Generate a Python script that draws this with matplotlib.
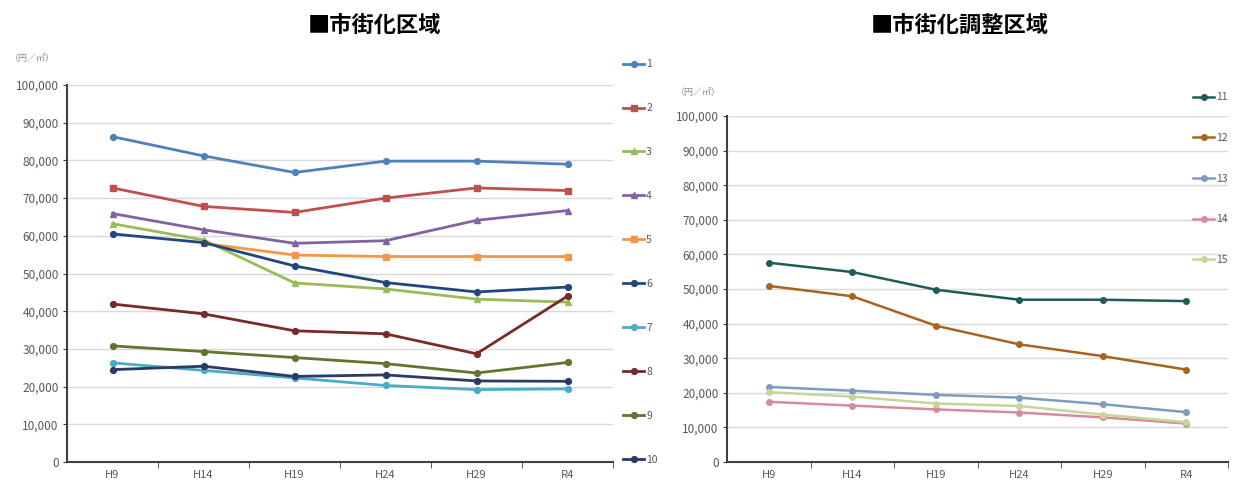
import numpy as np
import matplotlib
matplotlib.use("Agg")
import matplotlib.pyplot as plt

plt.rcParams['font.family'] = ['Noto Sans CJK JP', 'DejaVu Sans']

# categories (years)
years = ['H9', 'H14', 'H19', 'H24', 'H29', 'R4']

# 市街化区域 (yen / m2)
s1 = [86300, 81200, 76800, 79800, 79800, 79000]
s2 = [72700, 67800, 66200, 70000, 72700, 72000]
s3 = [63200, 58900, 47500, 45900, 43200, 42400]
s4 = [65900, 61600, 58000, 58700, 64100, 66700]
s5 = [np.nan, 58000, 54900, 54500, 54500, 54500]
s6 = [60500, 58200, 52000, 47600, 45100, 46400]
s7 = [26300, 24300, 22300, 20300, 19200, 19400]
s8 = [41900, 39300, 34800, 34000, 28700, 44000]
s9 = [30800, 29300, 27700, 26100, 23600, 26400]
s10 = [24500, 25400, 22700, 23100, 21500, 21400]

# 市街化調整区域 (yen / m2)
s11 = [57600, 54900, 49800, 46900, 46900, 46500]
s12 = [50900, 47900, 39400, 34000, 30600, 26700]
s13 = [21700, 20600, 19400, 18600, 16700, 14400]
s14 = [17400, 16300, 15200, 14300, 12900, 11100]
s15 = [20200, 18900, 16900, 16200, 13700, 11500]

left_names = ['1', '2', '3', '4', '5', '6', '7', '8', '9', '10']
left_series = [s1, s2, s3, s4, s5, s6, s7, s8, s9, s10]
left_colors = ['#4F81BD', '#C0504D', '#9BBB59', '#8064A2', '#F79646',
               '#1F497D', '#4BACC6', '#772C2A', '#5F7530', '#2E3A66']
left_markers = ['o', 's', '^', '^', 's', 'o', 'o', 'o', 'o', 'o']

right_names = ['11', '12', '13', '14', '15']
right_series = [s11, s12, s13, s14, s15]
right_colors = ['#1F5C56', '#A8641C', '#7F9BBD', '#D98A9A', '#C4D79B']

fig = plt.figure(figsize=(12.36, 4.84), dpi=100)
ax1 = fig.add_axes([67 / 1236, 1 - 462 / 484, 546 / 1236, 377 / 484])
ax2 = fig.add_axes([727 / 1236, 1 - 462 / 484, 501 / 1236, 346 / 484])

tick_col = '#595959'


def style_axes(ax):
    x = np.arange(len(years))
    ax.set_xlim(-0.5, len(years) - 0.5)
    ax.set_ylim(0, 100000)
    ax.set_yticks(np.arange(0, 100001, 10000))
    ax.set_yticklabels([f'{v:,}' for v in range(0, 100001, 10000)])
    ax.set_xticks(x)
    ax.set_xticklabels(years)
    ax.set_xticks(np.arange(0.5, len(years), 1), minor=True)
    ax.tick_params(axis='x', which='major', length=0, labelsize=8, colors=tick_col, pad=6)
    ax.tick_params(axis='x', which='minor', length=4, direction='out', color='#404040')
    ax.tick_params(axis='y', length=3, direction='out', labelsize=8.5, colors=tick_col, color='#404040', pad=3)
    ax.grid(axis='y', color='#D9D9D9', lw=1)
    ax.set_axisbelow(True)
    for sp in ['top', 'right']:
        ax.spines[sp].set_visible(False)
    for sp in ['left', 'bottom']:
        ax.spines[sp].set_color('#404040')
        ax.spines[sp].set_linewidth(1.5)


style_axes(ax1)
style_axes(ax2)

x = np.arange(len(years))
for name, vals, c, m in zip(left_names, left_series, left_colors, left_markers):
    ax1.plot(x, vals, color=c, lw=2, marker=m, ms=4.2, label=name)

for name, vals, c in zip(right_names, right_series, right_colors):
    ax2.plot(x, vals, color=c, lw=1.8, marker='o', ms=4, label=name)

ax1.legend(loc='upper left', bbox_to_anchor=(618 / 1236, 1 - 54 / 484), bbox_transform=fig.transFigure,
           frameon=False, fontsize=7.5, labelspacing=3.26, handlelength=2.0, handletextpad=0.2,
           borderpad=0, labelcolor=tick_col)
ax2.legend(loc='upper left', bbox_to_anchor=(1188 / 1236, 1 - 87 / 484), bbox_transform=fig.transFigure,
           frameon=False, fontsize=7.5, labelspacing=2.95, handlelength=2.0, handletextpad=0.2,
           borderpad=0, labelcolor=tick_col)

fig.text(375 / 1236, 1 - 25 / 484, '■市街化区域', ha='center', va='center', fontsize=16, fontweight='bold')
fig.text(960 / 1236, 1 - 25 / 484, '■市街化調整区域', ha='center', va='center', fontsize=16, fontweight='bold')
fig.text(10 / 1236, 1 - 58 / 484, '（円／㎡）', ha='left', va='center', fontsize=6.5, color='#8C8C8C')
fig.text(676 / 1236, 1 - 92 / 484, '（円／㎡）', ha='left', va='center', fontsize=6.5, color='#8C8C8C')

fig.savefig('out.png', dpi=100)
